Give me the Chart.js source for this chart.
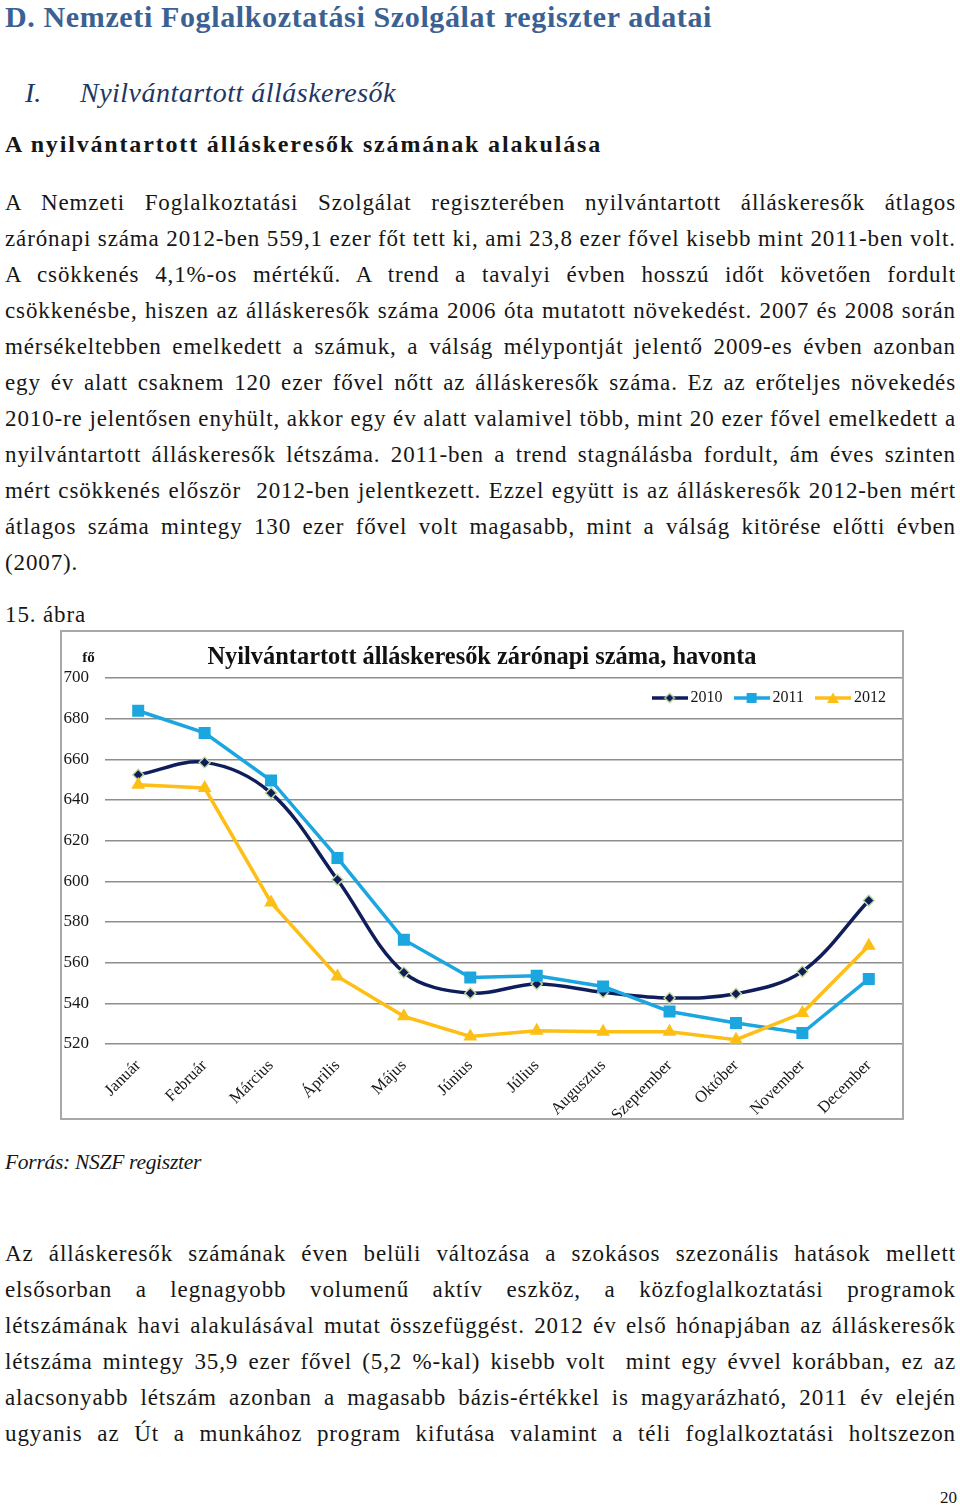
<!DOCTYPE html>
<html lang="hu"><head><meta charset="utf-8">
<script src="https://cdn.jsdelivr.net/npm/chart.js@4.4.1/dist/chart.umd.min.js"></script>
<style>
html,body{margin:0;padding:0;background:#fff}
body{width:960px;height:1508px;position:relative;overflow:hidden;font-family:"Liberation Serif","Times New Roman",serif;color:#161616}
.t{position:absolute;white-space:nowrap;line-height:1}
#box{position:absolute;left:60px;top:630px;width:840px;height:486px;border:2px solid #a8a8a8;background:#fff}
#box canvas{display:block}
</style></head>
<body>
<div id="page"></div>
<div id="box"><canvas id="c" width="840" height="486"></canvas></div>
<script>
// ---------- chart data ----------
const months = ["Január","Február","Március","Április","Május","Június","Július","Augusztus","Szeptember","Október","November","December"];
const seriesLabels = ["2010","2011","2012"];
const values2010 = [652.4,658.5,643.4,600.8,555.2,545.0,549.5,545.4,542.6,544.7,555.7,590.6];
const values2011 = [683.9,673.0,649.6,611.5,571.3,552.7,553.6,548.3,536.0,530.3,525.4,552.0];
const values2012 = [647.5,645.9,589.6,553.2,533.6,523.7,526.5,526.0,526.0,522.1,535.2,568.3];
const yTicks = [520,540,560,580,600,620,640,660,680,700];
const chartTitle = "Nyilvántartott álláskeresők zárónapi száma, havonta";
const yUnit = "fő";

// ---------- page text ----------
const para1 = [
"A Nemzeti Foglalkoztatási Szolgálat regiszterében nyilvántartott álláskeresők átlagos",
"zárónapi száma 2012-ben 559,1 ezer főt tett ki, ami 23,8 ezer fővel kisebb mint 2011-ben volt.",
"A csökkenés 4,1%-os mértékű. A trend a tavalyi évben hosszú időt követően fordult",
"csökkenésbe, hiszen az álláskeresők száma 2006 óta mutatott növekedést. 2007 és 2008 során",
"mérsékeltebben emelkedett a számuk, a válság mélypontját jelentő 2009-es évben azonban",
"egy év alatt csaknem 120 ezer fővel nőtt az álláskeresők száma. Ez az erőteljes növekedés",
"2010-re jelentősen enyhült, akkor egy év alatt valamivel több, mint 20 ezer fővel emelkedett a",
"nyilvántartott álláskeresők létszáma. 2011-ben a trend stagnálásba fordult, ám éves szinten",
"mért csökkenés először\u00a0 2012-ben jelentkezett. Ezzel együtt is az álláskeresők 2012-ben mért",
"átlagos száma mintegy 130 ezer fővel volt magasabb, mint a válság kitörése előtti évben",
"(2007)."
];
const para2 = [
"Az álláskeresők számának éven belüli változása a szokásos szezonális hatások mellett",
"elsősorban a legnagyobb volumenű aktív eszköz, a közfoglalkoztatási programok",
"létszámának havi alakulásával mutat összefüggést. 2012 év első hónapjában az álláskeresők",
"létszáma mintegy 35,9 ezer fővel (5,2 %-kal) kisebb volt\u00a0 mint egy évvel korábban, ez az",
"alacsonyabb létszám azonban a magasabb bázis-értékkel is magyarázható, 2011 év elején",
"ugyanis az Út a munkához program kifutása valamint a téli foglalkoztatási holtszezon"
];

const page = document.getElementById('page');
function addText(txt, left, baseline, size, opts) {
  opts = opts || {};
  const el = document.createElement('div');
  el.className = 't';
  el.textContent = txt;
  el.style.fontSize = size + 'px';
  el.style.left = left + 'px';
  el.style.top = (baseline - 0.8375 * size) + 'px';
  if (opts.bold) el.style.fontWeight = 'bold';
  if (opts.italic) el.style.fontStyle = 'italic';
  if (opts.color) el.style.color = opts.color;
  if (opts.ls) el.style.letterSpacing = opts.ls + 'px';
  page.appendChild(el);
  const natural = el.getBoundingClientRect().width;
  if (opts.width) {
    if (opts.mode === 'word') {
      const n = (txt.match(/[ \u00a0]/g) || []).length;
      if (n) el.style.wordSpacing = ((opts.width - natural) / n) + 'px';
    } else {
      el.style.letterSpacing = ((opts.ls || 0) + (opts.width - natural) / txt.length) + 'px';
    }
  }
  if (opts.right !== undefined) {
    el.style.left = (opts.right - el.getBoundingClientRect().width) + 'px';
  }
  return el;
}

const BODY = 23;
// letter spacing derived from the one line of the reference that is set with normal spaces
const probe = addText(para1[1], 5, -100, BODY);
const bodyLS = (951 - probe.getBoundingClientRect().width) / para1[1].length;
probe.remove();

addText("D. Nemzeti Foglalkoztatási Szolgálat regiszter adatai", 5, 27, 30, {bold:true, color:'#3b6193', width:707});
addText("I.", 25, 102, 28, {italic:true, color:'#1f3763'});
addText("Nyilvántartott álláskeresők", 80, 102, 28, {italic:true, color:'#1f3763', width:316});
addText("A nyilvántartott álláskeresők számának alakulása", 5, 152, 24, {bold:true, width:597});
para1.forEach((l, i) => {
  const last = i === para1.length - 1;
  addText(l, 5, 210 + 36 * i, BODY, last ? {ls: bodyLS} : {ls: bodyLS, width:951, mode:'word'});
});
addText("15. ábra", 5, 622, BODY, {ls: bodyLS});
addText("Forrás: NSZF regiszter", 5, 1170, 21.5, {italic:true, width:196});
para2.forEach((l, i) => {
  addText(l, 5, 1261 + 36 * i, BODY, {ls: bodyLS, width:951, mode:'word'});
});
addText("20", 0, 1503, 17, {right:957});

// ---------- chart ----------
const FONT = '"Liberation Serif", "Times New Roman", serif';
const navy = '#0f1e5b', blue = '#1ca6e0', gold = '#fdbe16', pale = '#c4d99c';

function makeIcon(color, marker) {
  const c = document.createElement('canvas'); c.width = 36; c.height = 16;
  const g = c.getContext('2d');
  g.strokeStyle = color; g.lineWidth = 3.5;
  g.beginPath(); g.moveTo(0, 8); g.lineTo(36, 8); g.stroke();
  g.beginPath();
  if (marker === 'diamond') {
    g.fillStyle = navy; g.strokeStyle = pale; g.lineWidth = 1.3;
    g.moveTo(18, 3.2); g.lineTo(22.8, 8); g.lineTo(18, 12.8); g.lineTo(13.2, 8); g.closePath();
    g.fill(); g.stroke();
  } else if (marker === 'square') {
    g.fillStyle = color; g.rect(13, 3, 10, 10); g.fill();
  } else {
    g.fillStyle = color; g.moveTo(18, 2.5); g.lineTo(24, 13); g.lineTo(12, 13); g.closePath(); g.fill();
  }
  return c;
}
const icons = [makeIcon(navy, 'diamond'), makeIcon(blue, 'square'), makeIcon(gold, 'triangle')];

const legendMover = {
  id: 'legendMover',
  afterLayout(chart) {
    const lg = chart.legend;
    const h = lg.height;
    lg.top = chart.chartArea.top - 4;
    lg.bottom = lg.top + h;
  }
};
const unitLabel = {
  id: 'unitLabel',
  afterDraw(chart) {
    const ctx = chart.ctx, ys = chart.scales.y;
    ctx.save();
    ctx.font = 'bold 15px ' + FONT;
    ctx.fillStyle = '#161616';
    ctx.textAlign = 'center';
    ctx.textBaseline = 'middle';
    ctx.fillText(yUnit, ys.right - 16.5, chart.chartArea.top - 20);
    ctx.restore();
  }
};

const TITLE_SIZE = 24.4;
new Chart(document.getElementById('c'), {
  type: 'line',
  data: {
    labels: months,
    datasets: [
      {label: seriesLabels[0], data: values2010, borderColor: navy, backgroundColor: navy, borderWidth: 3.5,
       tension: 0.35, pointStyle: 'rectRot', pointRadius: 5.5, pointBackgroundColor: navy,
       pointBorderColor: pale, pointBorderWidth: 1.4, order: 3},
      {label: seriesLabels[1], data: values2011, borderColor: blue, backgroundColor: blue, borderWidth: 3.5,
       tension: 0, pointStyle: 'rect', pointRadius: 8.5, pointBackgroundColor: blue,
       pointBorderWidth: 0, order: 2},
      {label: seriesLabels[2], data: values2012, borderColor: gold, backgroundColor: gold, borderWidth: 3.5,
       tension: 0, pointStyle: 'triangle', pointRadius: 8, pointBackgroundColor: gold,
       pointBorderWidth: 0, order: 1}
    ]
  },
  options: {
    responsive: false,
    animation: false,
    devicePixelRatio: 1,
    layout: {autoPadding: false, padding: {left: 0, right: 0, top: 0, bottom: 0}},
    plugins: {
      title: {display: true, text: chartTitle, color: '#111',
              font: {family: FONT, size: TITLE_SIZE, weight: 'bold'},
              padding: {top: 26 - TITLE_SIZE * 0.6, bottom: 4 - 26 - TITLE_SIZE * 0.6}},
      legend: {
        position: 'top', align: 'end',
        labels: {
          usePointStyle: true, pointStyleWidth: 26, padding: 16, color: '#161616',
          font: {family: FONT, size: 16},
          generateLabels(chart) {
            return chart.data.datasets.map((ds, i) => ({
              text: ds.label, pointStyle: icons[i], fillStyle: ds.borderColor,
              strokeStyle: ds.borderColor, lineWidth: 0, hidden: false, datasetIndex: i, fontColor: '#161616'
            }));
          }
        }
      },
      tooltip: {enabled: false}
    },
    scales: {
      x: {
        offset: true,
        grid: {display: false}, border: {display: false},
        ticks: {autoSkip: false, minRotation: 45, maxRotation: 45, padding: 4, color: '#161616',
                font: {family: FONT, size: 16.5}},
        afterFit(s) { s.height = 74; s.paddingLeft = 0; s.paddingRight = 0; }
      },
      y: {
        min: yTicks[0], max: yTicks[yTicks.length - 1],
        afterBuildTicks(s) { s.ticks = yTicks.map(v => ({value: v})); },
        grid: {color: '#8e8e8e', lineWidth: 1.5, drawTicks: false},
        border: {display: false},
        ticks: {padding: 16, color: '#161616', font: {family: FONT, size: 17}},
        afterFit(s) { s.width = 43; }
      }
    }
  },
  plugins: [legendMover, unitLabel]
});
</script>
</body></html>
